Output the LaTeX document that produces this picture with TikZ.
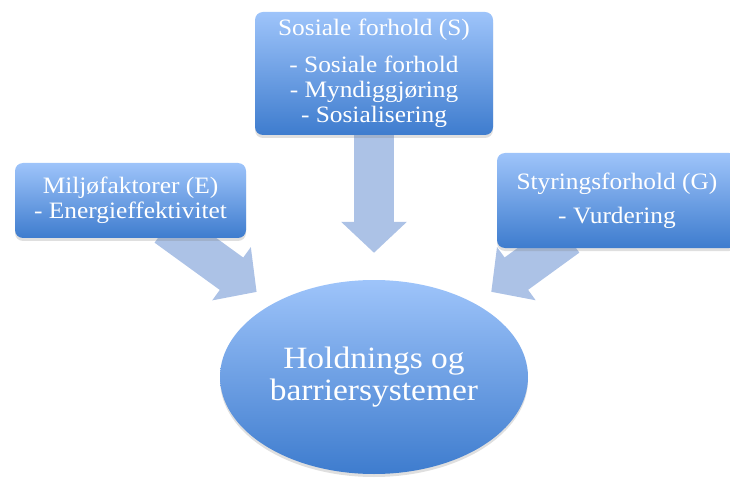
\documentclass[tikz,border=0pt]{standalone}
\usepackage{fontspec}
\setmainfont{Liberation Serif}[FakeStretch=1.08]
\usetikzlibrary{arrows.meta,shapes.geometric,shadows,backgrounds}
\definecolor{boxtop}{RGB}{158,196,250}
\definecolor{boxbot}{RGB}{62,124,206}
\definecolor{arrowfill}{RGB}{172,194,230}

\begin{document}
\begin{tikzpicture}[x=1pt,y=1pt,
  factor/.style={rounded corners=8pt,top color=boxtop,bottom color=boxbot,text=white,align=center,
    font=\fontsize{23.5}{25}\selectfont,drop shadow={shadow xshift=0pt,shadow yshift=-3pt,opacity=0.25}},
  hub/.style={ellipse,top color=boxtop,bottom color=boxbot,text=white,align=center,
    minimum width=308pt,minimum height=194pt,font=\fontsize{31}{31.5}\selectfont,
    drop shadow={shadow xshift=0pt,shadow yshift=-3pt,opacity=0.25}},
  flow/.style={line width=40pt,draw=arrowfill,-{Triangle[length=31pt,width=64pt]}}
]
  \useasboundingbox (0,0) rectangle (730,477);
  \node[factor,minimum width=238pt,minimum height=123pt] (soc) at (374,403.5)
    {Sosiale forhold (S)\\[12pt] - Sosiale forhold\\ - Myndiggjøring\\ - Sosialisering};
  \node[factor,minimum width=231pt,minimum height=75pt] (env) at (130.5,276.5)
    {Miljøfaktorer (E)\\ - Energieffektivitet};
  \node[factor,minimum width=240pt,minimum height=95pt] (gov) at (617,276.5)
    {Styringsforhold (G)\\[9pt] - Vurdering};
  \node[hub] (core) at (374,100) {Holdnings og\\ barriersystemer};
  \begin{scope}[on background layer]
    \draw[flow,shorten <=-12pt,shorten >=27pt] (soc) -- (core);
    \draw[flow,shorten <=-20pt,shorten >=20pt] (env) -- (core);
    \draw[flow,shorten <=-20pt,shorten >=20pt] (gov) -- (core);
  \end{scope}
\end{tikzpicture}
\end{document}
